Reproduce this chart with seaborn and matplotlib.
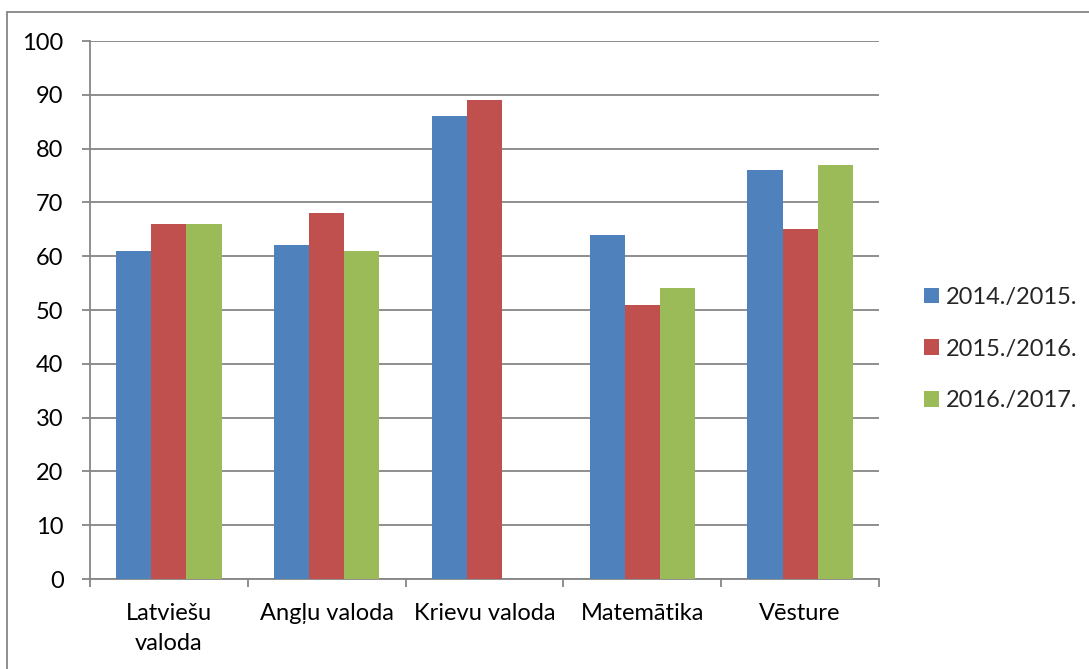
import matplotlib
matplotlib.use("Agg")
import matplotlib.pyplot as plt
import seaborn as sns
import pandas as pd
import numpy as np
from matplotlib.lines import Line2D
from matplotlib.patches import Patch

categories = ["Latviešu\nvaloda", "Angļu valoda", "Krievu valoda", "Matemātika", "Vēsture"]
series_names = ["2014./2015.", "2015./2016.", "2016./2017."]
v_2014 = [61, 62, 86, 64, 76]
v_2015 = [66, 68, 89, 51, 65]
v_2016 = [66, 61, np.nan, 54, 77]
y_ticks = [0, 10, 20, 30, 40, 50, 60, 70, 80, 90, 100]
colors = ["#4F81BD", "#C0504D", "#9BBB59"]

rows = []
for s, vals in zip(series_names, [v_2014, v_2015, v_2016]):
    for c, v in zip(categories, vals):
        rows.append({"cat": c, "series": s, "value": v})
df = pd.DataFrame(rows)

sns.set_theme(style="white")
plt.rcParams["font.family"] = ["Lato", "DejaVu Sans"]

W, H = 1089, 669
FS = 17
fig = plt.figure(figsize=(W / 100, H / 100), dpi=100)
ax = fig.add_axes([90 / W, (H - 579) / H, (879 - 90) / W, (579 - 41) / H])

sns.barplot(data=df, x="cat", y="value", hue="series", order=categories,
            hue_order=series_names, palette=colors, width=0.667,
            errorbar=None, saturation=1, ax=ax, legend=False, zorder=3)
for p in ax.patches:
    p.set_linewidth(0)

grid_c = "#868686"
ax.set_ylim(0, 100)
ax.set_xlim(-0.5, len(categories) - 0.5)
ax.set_yticks(y_ticks)
ax.yaxis.grid(True, color=grid_c, linewidth=1.3, zorder=0)
ax.set_axisbelow(True)
ax.set_xlabel("")
ax.set_ylabel("")

for side in ["top", "right"]:
    ax.spines[side].set_visible(False)
for side in ["left", "bottom"]:
    ax.spines[side].set_color(grid_c)
    ax.spines[side].set_linewidth(1.3)

ax.tick_params(axis="y", which="major", left=True, length=6, width=1.3,
               color=grid_c, pad=13, labelsize=FS, labelcolor="black")
ax.set_xticks(range(len(categories)))
ax.set_xticklabels(categories, fontsize=FS, color="black", linespacing=1.55)
ax.tick_params(axis="x", which="major", length=0, pad=17)
ax.set_xticks(np.arange(-0.5, len(categories), 1.0), minor=True)
ax.tick_params(axis="x", which="minor", bottom=True, length=6, width=1.3, color=grid_c)
for lbl in ax.get_xticklabels():
    lbl.set_verticalalignment("top")

handles = [Patch(facecolor=c, edgecolor="none") for c in colors]
fig.legend(handles, series_names, loc="center left",
           bbox_to_anchor=(912 / W, 1 - 349 / H), frameon=False,
           fontsize=FS, handlelength=0.63, handleheight=0.63,
           handletextpad=0.3, labelspacing=1.3, borderpad=0)

# outer chart border
fig.add_artist(Line2D([7 / W, 1.0], [1 - 12 / H, 1 - 12 / H], color=grid_c, linewidth=1.3))
fig.add_artist(Line2D([7 / W, 7 / W], [1 - 12 / H, 0.0], color=grid_c, linewidth=1.3))

fig.savefig("out.png", dpi=100)
